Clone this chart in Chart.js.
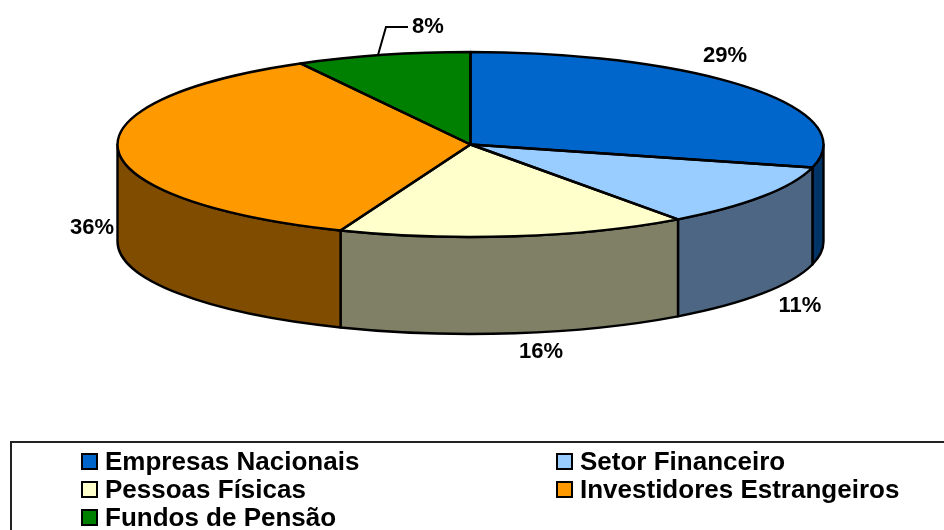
<!DOCTYPE html>
<html>
<head>
<meta charset="utf-8">
<title>Pie</title>
<style>
  html, body { margin:0; padding:0; background:#fff; }
  #wrap { width:944px; height:530px; overflow:hidden; }
</style>
<script src="https://cdn.jsdelivr.net/npm/chart.js@4/dist/chart.umd.min.js"></script>
</head>
<body>
<div id="wrap"><canvas id="chart" width="944" height="530"></canvas></div>
<script>
const categories = ['Empresas Nacionais', 'Setor Financeiro', 'Pessoas Físicas', 'Investidores Estrangeiros', 'Fundos de Pensão'];
const shares = [29, 11, 16, 36, 8];
const topColors = ['#0066CC', '#99CCFF', '#FFFFCC', '#FF9900', '#008000'];
const sideColors = ['#003366', '#4D6684', '#808066', '#804D00', '#004000'];

const FONT = '"Liberation Sans", Arial, sans-serif';
const squash = 0.262;   // achatamento da elipse
const depth = 97;       // altura do cilindro
const outline = 2.4;

// posicao dos rotulos (centro do texto), na ordem das fatias
const labelPos = [[725, 56], [800, 306], [541, 352], [92, 228], [428, 27]];
// posicao da legenda: [coluna, linha] de cada item
const legendCell = [[0, 0], [1, 0], [0, 1], [1, 1], [0, 2]];
const legendX = [82, 557];
const legendY = [454, 482, 510];

const pie3d = {
  id: 'pie3d',
  beforeDatasetsDraw(chart) {
    const ctx = chart.ctx;
    const arcs = chart.getDatasetMeta(0).data;
    ctx.save();
    ctx.lineWidth = outline;
    ctx.lineJoin = 'round';
    ctx.strokeStyle = '#000';
    arcs.forEach((a, i) => {
      const p = a.getProps(['x', 'y', 'startAngle', 'endAngle', 'outerRadius'], true);
      const a0 = Math.max(p.startAngle, 0);
      const a1 = Math.min(p.endAngle, Math.PI);
      if (a1 <= a0) return;
      const ry = p.outerRadius * squash;
      ctx.beginPath();
      ctx.ellipse(p.x, p.y, p.outerRadius, ry, 0, a0, a1);
      ctx.ellipse(p.x, p.y + depth, p.outerRadius, ry, 0, a1, a0, true);
      ctx.closePath();
      ctx.fillStyle = sideColors[i];
      ctx.fill();
      ctx.stroke();
    });
    ctx.restore();
    // achata as fatias desenhadas pelo Chart.js
    const c = arcs[0];
    ctx.save();
    ctx.translate(c.x, c.y);
    ctx.scale(1, squash);
    ctx.translate(-c.x, -c.y);
  },
  afterDatasetsDraw(chart) {
    const ctx = chart.ctx;
    ctx.restore();
    const arcs = chart.getDatasetMeta(0).data;
    ctx.save();
    ctx.lineWidth = outline;
    ctx.lineJoin = 'round';
    ctx.strokeStyle = '#000';
    arcs.forEach(a => {
      const p = a.getProps(['x', 'y', 'startAngle', 'endAngle', 'outerRadius'], true);
      ctx.beginPath();
      ctx.moveTo(p.x, p.y);
      ctx.ellipse(p.x, p.y, p.outerRadius, p.outerRadius * squash, 0, p.startAngle, p.endAngle);
      ctx.closePath();
      ctx.stroke();
    });
    ctx.restore();
  },
  afterDraw(chart) {
    const ctx = chart.ctx;
    ctx.save();
    // linha de chamada do 8%
    ctx.lineWidth = 2;
    ctx.strokeStyle = '#000';
    ctx.beginPath();
    ctx.moveTo(378, 55);
    ctx.lineTo(386, 27);
    ctx.lineTo(408, 27);
    ctx.stroke();

    // rotulos
    ctx.fillStyle = '#000';
    ctx.font = 'bold 22px ' + FONT;
    ctx.textAlign = 'center';
    ctx.textBaseline = 'middle';
    shares.forEach((v, i) => ctx.fillText(v + '%', labelPos[i][0], labelPos[i][1]));

    // legenda
    ctx.lineWidth = 2;
    ctx.strokeStyle = '#222';
    ctx.strokeRect(11, 442, 960, 120);
    ctx.font = 'bold 26px ' + FONT;
    ctx.textAlign = 'left';
    ctx.textBaseline = 'alphabetic';
    categories.forEach((name, i) => {
      const x = legendX[legendCell[i][0]];
      const y = legendY[legendCell[i][1]];
      ctx.fillStyle = topColors[i];
      ctx.fillRect(x, y, 15, 15);
      ctx.strokeStyle = '#000';
      ctx.strokeRect(x, y, 15, 15);
      ctx.fillStyle = '#000';
      ctx.fillText(name, x + 23, y + 16);
    });
    ctx.restore();
  }
};

new Chart(document.getElementById('chart'), {
  type: 'pie',
  data: {
    labels: categories,
    datasets: [{ data: shares, backgroundColor: topColors, borderWidth: 0, radius: 353, clip: false }]
  },
  options: {
    responsive: false,
    animation: false,
    layout: { padding: { right: 3, bottom: 241 } },
    plugins: { legend: { display: false }, tooltip: { enabled: false } }
  },
  plugins: [pie3d]
});
</script>
</body>
</html>
